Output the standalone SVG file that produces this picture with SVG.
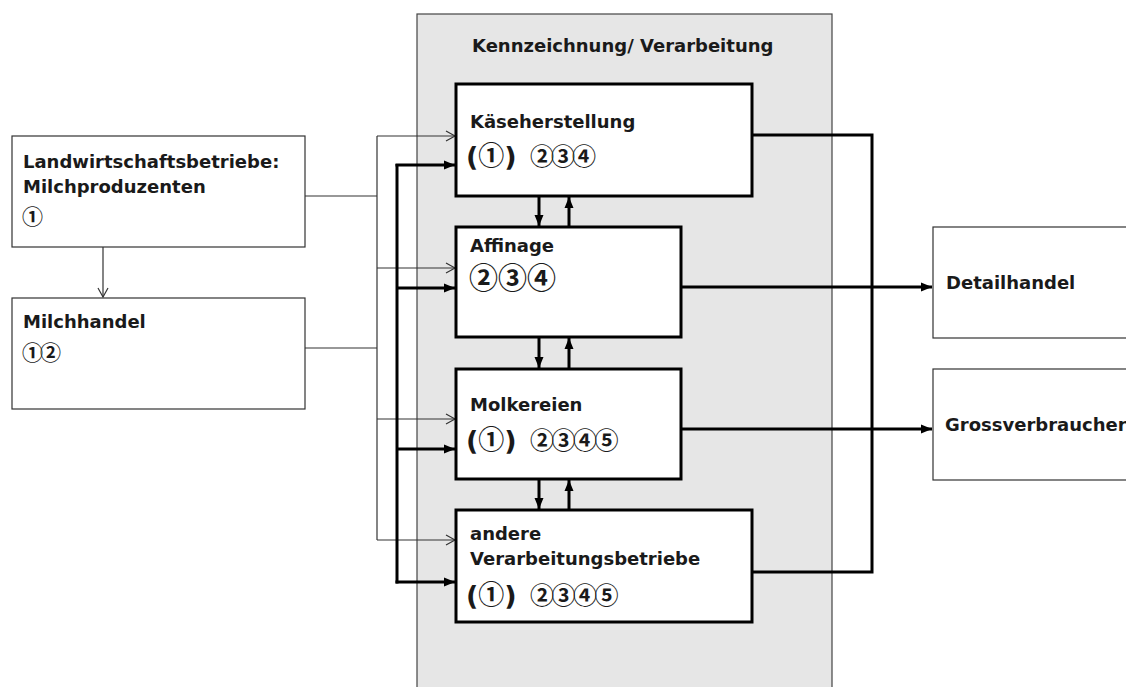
<svg xmlns="http://www.w3.org/2000/svg" width="1126" height="687" viewBox="0 0 1126 687">
<defs>
<style>
.lbl{font-family:"DejaVu Sans","Liberation Sans",sans-serif;font-weight:bold;font-size:18px;fill:#1a1a1a}
.num{font-family:"Noto Sans CJK JP",sans-serif;font-weight:bold;fill:#1a1a1a}
.par{font-family:"DejaVu Sans",sans-serif;font-weight:bold;font-size:27px;fill:#1a1a1a}
.thinbox{fill:#fff;stroke:#333;stroke-width:1.2}
.thickbox{fill:#fff;stroke:#000;stroke-width:3}
.thin{fill:none;stroke:#333;stroke-width:1.2}
.thick{fill:none;stroke:#000;stroke-width:3}
</style>
<marker id="open" markerWidth="12" markerHeight="12" refX="10" refY="6" orient="auto" markerUnits="userSpaceOnUse">
<path d="M1,1 L10,6 L1,11" fill="none" stroke="#333" stroke-width="1.2"/>
</marker>
<marker id="fill" markerWidth="12" markerHeight="12" refX="11" refY="6" orient="auto" markerUnits="userSpaceOnUse">
<path d="M0,1.5 L11,6 L0,10.5 Z" fill="#000"/>
</marker>
</defs>
<rect width="1126" height="687" fill="#fff"/>

<g id="container">
<rect x="417" y="14" width="415" height="690" fill="#e6e6e6" stroke="#444" stroke-width="1.2"/>
<text class="lbl" x="472" y="52">Kennzeichnung/ Verarbeitung</text>
</g>

<g id="connectors">
<polyline class="thin" points="305,196 377,196"/>
<polyline class="thin" points="305,348 377,348"/>
<line class="thin" x1="377" y1="136" x2="377" y2="540"/>
<line class="thin" x1="377" y1="136" x2="455" y2="136" marker-end="url(#open)"/>
<line class="thin" x1="377" y1="268" x2="455" y2="268" marker-end="url(#open)"/>
<line class="thin" x1="377" y1="419" x2="455" y2="419" marker-end="url(#open)"/>
<line class="thin" x1="377" y1="540" x2="455" y2="540" marker-end="url(#open)"/>
<line class="thin" x1="103" y1="247" x2="103" y2="297" marker-end="url(#open)"/>
<line class="thick" x1="397" y1="164" x2="397" y2="583.5"/>
<line class="thick" x1="395.5" y1="165" x2="455" y2="165" marker-end="url(#fill)"/>
<line class="thick" x1="397" y1="288" x2="455" y2="288" marker-end="url(#fill)"/>
<line class="thick" x1="397" y1="449" x2="455" y2="449" marker-end="url(#fill)"/>
<line class="thick" x1="395.5" y1="582" x2="455" y2="582" marker-end="url(#fill)"/>
<line class="thick" x1="539" y1="196" x2="539" y2="226" marker-end="url(#fill)"/>
<line class="thick" x1="569" y1="227" x2="569" y2="197" marker-end="url(#fill)"/>
<line class="thick" x1="539" y1="337" x2="539" y2="368" marker-end="url(#fill)"/>
<line class="thick" x1="569" y1="369" x2="569" y2="338" marker-end="url(#fill)"/>
<line class="thick" x1="539" y1="479" x2="539" y2="509" marker-end="url(#fill)"/>
<line class="thick" x1="569" y1="510" x2="569" y2="480" marker-end="url(#fill)"/>
<polyline class="thick" points="752,135 872,135 872,572 752,572"/>
<line class="thick" x1="681" y1="287" x2="932" y2="287" marker-end="url(#fill)"/>
<line class="thick" x1="681" y1="429" x2="932" y2="429" marker-end="url(#fill)"/>
</g>

<g id="landwirtschaft">
<rect class="thinbox" x="12" y="136" width="293" height="111"/>
<text class="lbl" x="23" y="168">Landwirtschaftsbetriebe:</text>
<text class="lbl" x="23" y="193">Milchproduzenten</text>
<text class="num" x="22" y="224" font-size="21">①</text>
</g>

<g id="milchhandel">
<rect class="thinbox" x="12" y="298" width="293" height="111"/>
<text class="lbl" x="23" y="328">Milchhandel</text>
<text class="num" x="22" y="360" font-size="21" letter-spacing="-3">①②</text>
</g>

<g id="kaese">
<rect class="thickbox" x="456" y="84" width="296" height="112"/>
<text class="lbl" x="470" y="128">Käseherstellung</text>
<text x="466" y="166"><tspan class="par">(</tspan><tspan class="num" font-size="26" dy="-1">①</tspan><tspan class="par" dy="1">)</tspan></text>
<text class="num" x="530" y="165" font-size="24" letter-spacing="-3">②③④</text>
</g>

<g id="affinage">
<rect class="thickbox" x="456" y="227" width="225" height="110"/>
<text class="lbl" x="470" y="252">Affinage</text>
<text class="num" x="469" y="289" font-size="29">②③④</text>
</g>

<g id="molkereien">
<rect class="thickbox" x="456" y="369" width="225" height="110"/>
<text class="lbl" x="470" y="411">Molkereien</text>
<text x="466" y="450"><tspan class="par">(</tspan><tspan class="num" font-size="26" dy="-1">①</tspan><tspan class="par" dy="1">)</tspan></text>
<text class="num" x="530" y="449" font-size="24" letter-spacing="-2.5">②③④⑤</text>
</g>

<g id="andere">
<rect class="thickbox" x="456" y="510" width="296" height="112"/>
<text class="lbl" x="470" y="540">andere</text>
<text class="lbl" x="470" y="565">Verarbeitungsbetriebe</text>
<text x="466" y="605"><tspan class="par">(</tspan><tspan class="num" font-size="26" dy="-1">①</tspan><tspan class="par" dy="1">)</tspan></text>
<text class="num" x="530" y="604" font-size="24" letter-spacing="-2.5">②③④⑤</text>
</g>

<g id="detailhandel">
<rect class="thinbox" x="933" y="227" width="220" height="111"/>
<text class="lbl" x="946" y="289">Detailhandel</text>
</g>

<g id="grossverbraucher">
<rect class="thinbox" x="933" y="369" width="220" height="111"/>
<text class="lbl" x="945" y="431">Grossverbraucher</text>
</g>
</svg>
